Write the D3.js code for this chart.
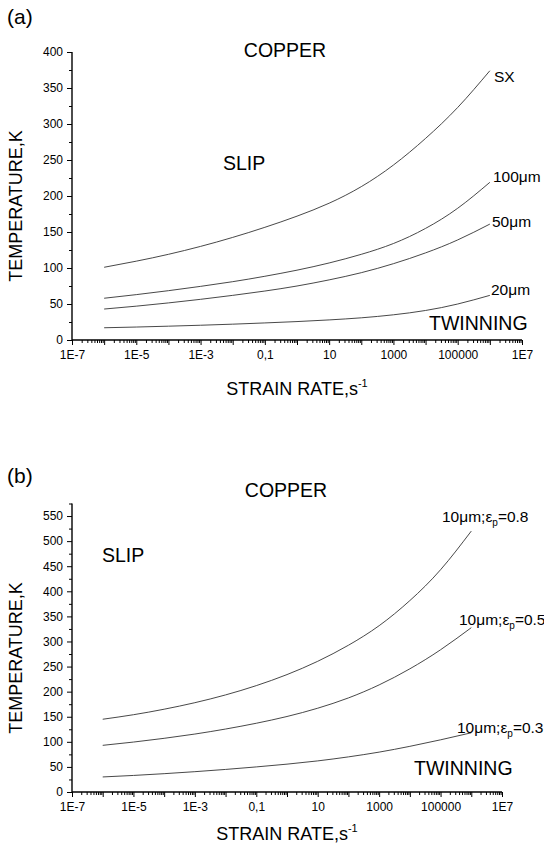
<!DOCTYPE html>
<html>
<head>
<meta charset="utf-8">
<script src="https://cdn.jsdelivr.net/npm/d3@7"></script>
<style>
  html, body { margin: 0; padding: 0; background: #fff; }
  svg { display: block; }
  text { font-family: "Liberation Sans", Arial, sans-serif; fill: #000; }
</style>
</head>
<body>
<svg id="chart" width="544" height="850"></svg>
<script>
// ---- data ----
const strainRates = [1e-6, 1e-5, 1e-4, 1e-3, 1e-2, 1e-1, 1, 10, 100, 1000, 1e4, 1e5, 1e6];

// panel (a)
const tempSX     = [101, 109.5, 119, 130, 142.5, 156.5, 172, 190, 213, 243, 280, 323, 374];
const temp100um  = [58, 63, 68.5, 74.5, 81, 88.5, 97, 107, 119, 134, 155, 183, 219];
const temp50um   = [43, 47, 51.5, 56.5, 62, 68, 75, 83.5, 93.5, 106, 121, 139, 161];
const temp20um   = [17, 18, 19.2, 20.5, 22, 23.7, 25.6, 27.9, 30.8, 35, 41, 50, 62];

// panel (b)
const tempEp08 = [145, 154, 165, 178, 193.5, 212, 234, 260.5, 292.5, 331.5, 381.5, 443, 520];
const tempEp05 = [93, 99.5, 107, 115.5, 125.5, 137, 150.5, 167, 187.5, 213.5, 245.5, 283.5, 327.5];
const tempEp03 = [30, 33, 36.5, 40.5, 45, 50, 55.5, 62, 70, 79.5, 91, 104, 118];

const xTickValues = [1e-7, 1e-5, 1e-3, 1e-1, 10, 1000, 1e5, 1e7];
const xTickLabels = ["1E-7", "1E-5", "1E-3", "0,1", "10", "1000", "100000", "1E7"];
const yTicksA = [0, 50, 100, 150, 200, 250, 300, 350, 400];
const yTicksB = [0, 50, 100, 150, 200, 250, 300, 350, 400, 450, 500, 550];

const svg = d3.select("#chart");
const FONT = '"Liberation Sans", Arial, sans-serif';

function drawPanel(cfg) {
  const g = svg.append("g");
  const x = d3.scaleLog().domain([1e-7, 1e7]).range([cfg.x0, cfg.x1]);
  const y = d3.scaleLinear().domain(cfg.yDomain).range([cfg.yBottom, cfg.yTop]);

  const decades = d3.range(-7, 8);
  const majorX = decades.map(d => Math.pow(10, d));
  const minorX = [];
  decades.slice(0, -1).forEach(d => { for (let k = 2; k <= 9; k++) minorX.push(k * Math.pow(10, d)); });

  g.append("g").attr("transform", `translate(0,${cfg.yBottom})`)
    .call(d3.axisBottom(x).tickValues(minorX).tickSize(3).tickFormat(""))
    .call(a => a.select(".domain").remove())
    .call(a => a.selectAll("line").attr("stroke", "#000").attr("stroke-width", 1));

  const labelMap = new Map(xTickValues.map((v, i) => [Math.round(Math.log10(v)), xTickLabels[i]]));
  g.append("g").attr("transform", `translate(0,${cfg.yBottom})`)
    .call(d3.axisBottom(x).tickValues(majorX).tickSize(5).tickPadding(5)
      .tickFormat(v => labelMap.get(Math.round(Math.log10(v))) || ""))
    .call(a => a.select(".domain").attr("stroke", "#000").attr("stroke-width", 1.4).attr("d", `M${cfg.x0},0H${cfg.x1}`))
    .call(a => a.selectAll("line").attr("stroke", "#000").attr("stroke-width", 1))
    .call(a => a.selectAll("text").attr("font-size", 12).attr("font-family", FONT).attr("fill", "#000"));

  const yMinor = d3.range(25, cfg.yDomain[1] + 1, 50);
  g.append("g").attr("transform", `translate(${cfg.x0},0)`)
    .call(d3.axisLeft(y).tickValues(yMinor).tickSize(3).tickFormat(""))
    .call(a => a.select(".domain").remove())
    .call(a => a.selectAll("line").attr("stroke", "#000").attr("stroke-width", 1));
  g.append("g").attr("transform", `translate(${cfg.x0},0)`)
    .call(d3.axisLeft(y).tickValues(cfg.yTicks).tickSize(5).tickPadding(4).tickFormat(d3.format("d")))
    .call(a => a.select(".domain").attr("stroke", "#000").attr("stroke-width", 1.4).attr("d", `M0,${cfg.yTop}V${cfg.yBottom}`))
    .call(a => a.selectAll("line").attr("stroke", "#000").attr("stroke-width", 1))
    .call(a => a.selectAll("text").attr("font-size", 12).attr("font-family", FONT).attr("fill", "#000"));

  const line = d3.line().x((d, i) => x(strainRates[i])).y(d => y(d)).curve(d3.curveNatural);
  cfg.series.forEach(s => {
    g.append("path").datum(s).attr("d", line)
      .attr("fill", "none").attr("stroke", "#333").attr("stroke-width", 0.9);
  });

  const xt = g.append("text").attr("x", (cfg.x0 + cfg.x1) / 2).attr("y", cfg.xTitleY)
    .attr("text-anchor", "middle").attr("font-size", 18);
  xt.append("tspan").text("STRAIN RATE,s");
  xt.append("tspan").text("-1").attr("font-size", 11).attr("dy", -8);

  g.append("text").attr("transform", `translate(${cfg.yTitleX},${cfg.yTitleY}) rotate(-90)`)
    .attr("text-anchor", "middle").attr("font-size", 18).text("TEMPERATURE,K");

  g.append("text").attr("x", 7).attr("y", cfg.panelLabelY).attr("font-size", 21).text(cfg.panelLabel);
  return g;
}

function epsLabel(g, xp, yp, val) {
  const t = g.append("text").attr("x", xp).attr("y", yp).attr("font-size", 15.5);
  t.append("tspan").text("10\u03bcm;\u03b5");
  t.append("tspan").text("p").attr("font-size", 10).attr("dy", 4);
  t.append("tspan").text("=" + val).attr("dy", -4);
}

// ---- panel (a) ----
const ga = drawPanel({
  x0: 72, x1: 522, yTop: 52, yBottom: 340, yDomain: [0, 400], yTicks: yTicksA,
  series: [tempSX, temp100um, temp50um, temp20um],
  xTitleY: 395, yTitleX: 22, yTitleY: 206, panelLabel: "(a)", panelLabelY: 24
});
ga.append("text").attr("x", 285).attr("y", 57).attr("text-anchor", "middle").attr("font-size", 19.5).text("COPPER");
ga.append("text").attr("x", 223).attr("y", 170).attr("font-size", 19.5).text("SLIP");
ga.append("text").attr("x", 494).attr("y", 82).attr("font-size", 15.5).text("SX");
ga.append("text").attr("x", 493).attr("y", 182).attr("font-size", 15.5).text("100\u03bcm");
ga.append("text").attr("x", 492).attr("y", 227).attr("font-size", 15.5).text("50\u03bcm");
ga.append("text").attr("x", 491).attr("y", 295).attr("font-size", 15.5).text("20\u03bcm");
ga.append("text").attr("x", 429).attr("y", 330).attr("font-size", 19.5).text("TWINNING");

// ---- panel (b) ----
const gb = drawPanel({
  x0: 72, x1: 502, yTop: 503.5, yBottom: 792, yDomain: [0, 575], yTicks: yTicksB,
  series: [tempEp08, tempEp05, tempEp03],
  xTitleY: 840, yTitleX: 22, yTitleY: 658, panelLabel: "(b)", panelLabelY: 483
});
gb.append("text").attr("x", 286).attr("y", 497).attr("text-anchor", "middle").attr("font-size", 19.5).text("COPPER");
gb.append("text").attr("x", 102).attr("y", 562).attr("font-size", 19.5).text("SLIP");
epsLabel(gb, 442, 522, "0.8");
epsLabel(gb, 459, 625, "0.5");
epsLabel(gb, 457, 733, "0.3");
gb.append("text").attr("x", 414).attr("y", 775).attr("font-size", 19.5).text("TWINNING");
</script>
</body>
</html>
